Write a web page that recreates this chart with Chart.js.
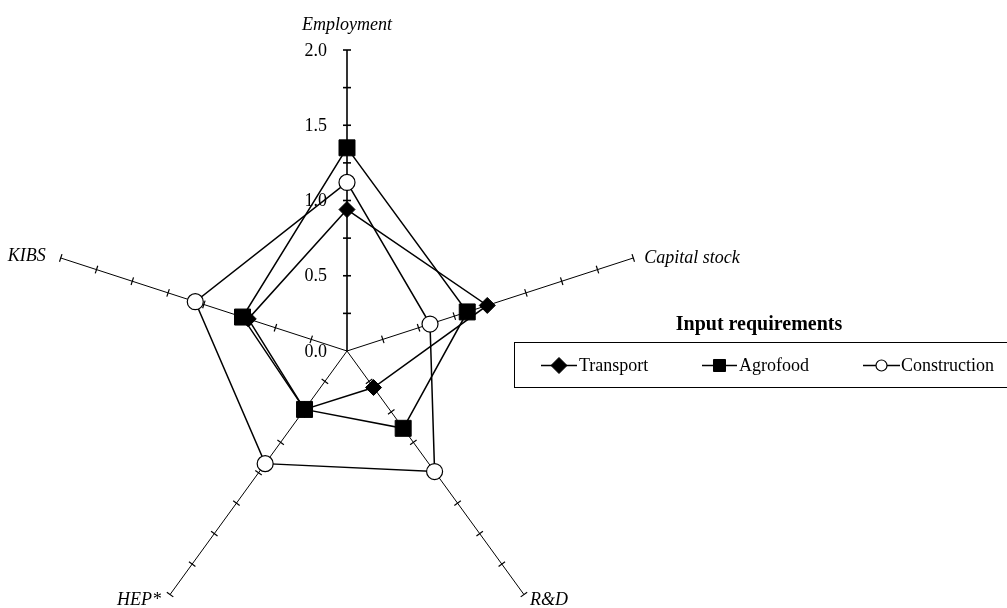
<!DOCTYPE html>
<html>
<head>
<meta charset="utf-8">
<style>
html, body { margin: 0; padding: 0; background: #fff; overflow: hidden; }
canvas { display: block; }
</style>
<script src="https://cdn.jsdelivr.net/npm/chart.js@4.4.1/dist/chart.umd.min.js"></script>
</head>
<body>
<canvas id="radar" width="1007" height="700"></canvas>
<script>
// values
var axisLabels = ['Employment', 'Capital stock', 'R&D', 'HEP*', 'KIBS'];
var seriesNames = ['Transport', 'Agrofood', 'Construction'];
var transport = [0.94, 0.98, 0.30, 0.48, 0.69];
var agrofood = [1.35, 0.84, 0.635, 0.48, 0.73];
var construction = [1.12, 0.58, 0.99, 0.925, 1.06];
var tickValues = [0, 0.5, 1, 1.5, 2];
var tickLabels = ['0.0', '0.5', '1.0', '1.5', '2.0'];
var minorStep = 0.25;
var legendTitle = 'Input requirements';

var serif = '"Liberation Serif", "Times New Roman", serif';

// where each axis name sits relative to the axis end
var labelPlace = [
    { align: 'center', dx: 0, dy: -25 },
    { align: 'left', dx: 11, dy: 0 },
    { align: 'left', dx: 6, dy: 6 },
    { align: 'right', dx: -9, dy: 6 },
    { align: 'right', dx: -15, dy: -2 }
];

function marker(ctx, ds, x, y, radius) {
    ctx.save();
    ctx.fillStyle = ds.pointBackgroundColor;
    ctx.strokeStyle = ds.pointBorderColor;
    ctx.lineWidth = ds.pointBorderWidth;
    if (Chart.helpers && Chart.helpers.drawPoint) {
        Chart.helpers.drawPoint(ctx, {
            pointStyle: ds.pointStyle, rotation: 0,
            radius: radius, borderWidth: ds.pointBorderWidth
        }, x, y);
    } else {
        ctx.beginPath();
        ctx.arc(x, y, radius, 0, Math.PI * 2);
        ctx.fill();
        ctx.stroke();
    }
    ctx.restore();
}

var axisDecor = {
    id: 'axisDecor',
    beforeDatasetsDraw: function (chart) {
        var scale = chart.scales.r;
        var ctx = chart.ctx;
        ctx.save();
        ctx.strokeStyle = '#000';
        for (var i = 0; i < axisLabels.length; i++) {
            var a = scale.getIndexAngle(i) - Math.PI / 2;
            var px = -Math.sin(a), py = Math.cos(a);
            ctx.lineWidth = (i === 0) ? 1.6 : 1.2;
            for (var v = minorStep; v <= scale.max + 1e-9; v += minorStep) {
                var p = scale.getPointPosition(i, scale.getDistanceFromCenterForValue(v));
                var h = 4;
                ctx.beginPath();
                ctx.moveTo(p.x - px * h, p.y - py * h);
                ctx.lineTo(p.x + px * h, p.y + py * h);
                ctx.stroke();
            }
        }
        ctx.restore();
    },
    afterDraw: function (chart) {
        var scale = chart.scales.r;
        var ctx = chart.ctx;
        ctx.save();
        ctx.fillStyle = '#000';

        // value labels along the vertical axis
        ctx.font = '18px ' + serif;
        ctx.textAlign = 'right';
        ctx.textBaseline = 'middle';
        tickValues.forEach(function (v, k) {
            var p = scale.getPointPosition(0, scale.getDistanceFromCenterForValue(v));
            ctx.fillText(tickLabels[k], p.x - 20, p.y + 1);
        });

        // axis names
        ctx.font = 'italic 18px ' + serif;
        var outer = scale.getDistanceFromCenterForValue(scale.max);
        axisLabels.forEach(function (name, i) {
            var p = scale.getPointPosition(i, outer);
            ctx.textAlign = labelPlace[i].align;
            ctx.fillText(name, p.x + labelPlace[i].dx, p.y + labelPlace[i].dy);
        });

        // legend box
        ctx.font = 'bold 20px ' + serif;
        ctx.textAlign = 'center';
        ctx.fillText(legendTitle, 759, 325);
        ctx.strokeStyle = '#000';
        ctx.lineWidth = 1;
        ctx.strokeRect(514.5, 342.5, 520, 45);

        var lineX = [[541, 577], [702, 737], [863, 900]];
        var textX = [579, 739, 901];
        var legR = [8, 8.5, 5.5];
        ctx.font = '18px ' + serif;
        ctx.textAlign = 'left';
        chart.data.datasets.forEach(function (ds, k) {
            var y = 365.5;
            ctx.strokeStyle = '#000';
            ctx.lineWidth = 1.5;
            ctx.beginPath();
            ctx.moveTo(lineX[k][0], y);
            ctx.lineTo(lineX[k][1], y);
            ctx.stroke();
            marker(ctx, ds, (lineX[k][0] + lineX[k][1]) / 2, y, legR[k]);
            ctx.fillStyle = '#000';
            ctx.fillText(seriesNames[k], textX[k], y + 1);
        });
        ctx.restore();
    }
};

var chart_radar = new Chart(document.getElementById('radar'), {
    type: 'radar',
    data: {
        labels: axisLabels,
        datasets: [
            {
                label: seriesNames[0],
                data: transport,
                borderColor: '#000',
                borderWidth: 1.5,
                fill: false,
                pointStyle: 'rectRot',
                pointRadius: 8,
                pointBackgroundColor: '#000',
                pointBorderColor: '#000',
                pointBorderWidth: 1
            },
            {
                label: seriesNames[1],
                data: agrofood,
                borderColor: '#000',
                borderWidth: 1.5,
                fill: false,
                pointStyle: 'rect',
                pointRadius: 11.3,
                pointBackgroundColor: '#000',
                pointBorderColor: '#000',
                pointBorderWidth: 1
            },
            {
                label: seriesNames[2],
                data: construction,
                borderColor: '#000',
                borderWidth: 1.5,
                fill: false,
                pointStyle: 'circle',
                pointRadius: 8,
                pointBackgroundColor: '#fff',
                pointBorderColor: '#000',
                pointBorderWidth: 1.2
            }
        ]
    },
    options: {
        animation: false,
        responsive: false,
        layout: {
            padding: { left: 46, top: 50, right: 359, bottom: 48 }
        },
        plugins: {
            legend: { display: false },
            tooltip: { enabled: false }
        },
        elements: {
            line: { tension: 0 }
        },
        scales: {
            r: {
                min: 0,
                max: 2,
                ticks: { display: false, stepSize: 0.5 },
                grid: { display: false },
                angleLines: {
                    display: true,
                    color: '#000',
                    lineWidth: function (c) { return c.index === 0 ? 1.6 : 1; }
                },
                pointLabels: { display: false }
            }
        }
    },
    plugins: [axisDecor]
});
</script>
</body>
</html>
